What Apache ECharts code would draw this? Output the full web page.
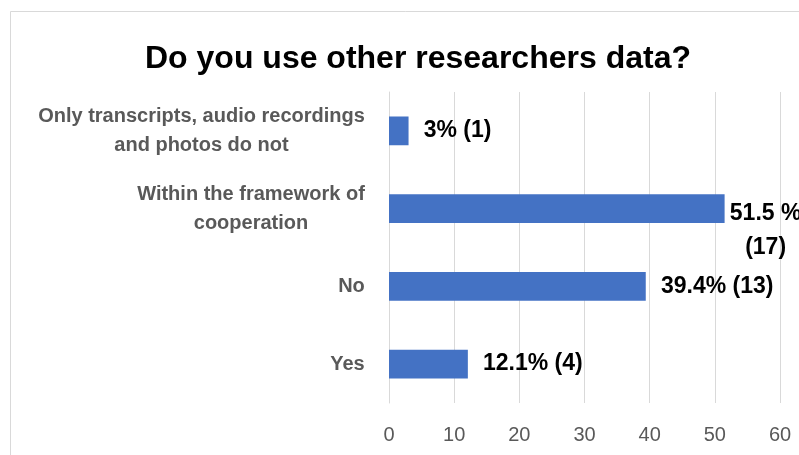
<!DOCTYPE html>
<html>
<head>
<meta charset="utf-8">
<script src="https://cdn.jsdelivr.net/npm/echarts@6/dist/echarts.min.js"></script>
<style>
html,body{margin:0;padding:0;background:#fff;}
#chart{width:799px;height:455px;}
</style>
</head>
<body>
<div id="chart"></div>
<script>
// Data (bottom to top order on the category axis)
const categories = ['Yes', 'No', 'Within the framework of\ncooperation', 'Only transcripts, audio recordings\nand photos do not'];
const values = [12.1, 39.4, 51.5, 3];
const valueLabels = ['12.1% (4)', '39.4% (13)', '51.5 %\n(17)', '3% (1)'];
const xTicks = [0, 10, 20, 30, 40, 50, 60];

const FONT = "'Liberation Sans', Arial, sans-serif";
const catFontSize = 20;
const valFontSize = 23;

// measure text widths so multi-line labels are centered within their block
const cv = document.createElement('canvas').getContext('2d');
function maxLineWidth(text, size) {
  cv.font = 'bold ' + size + 'px ' + "'Liberation Sans', Arial, sans-serif";
  return Math.ceil(Math.max(...text.split('\n').map(l => cv.measureText(l).width))) + 2;
}

const catRich = {};
categories.forEach((c, i) => {
  catRich['c' + i] = {width: maxLineWidth(c, catFontSize), align: 'center', fontSize: catFontSize, fontWeight: 'bold', color: '#595959', fontFamily: FONT, lineHeight: 29};
});
const valRich = {};
valueLabels.forEach((v, i) => {
  valRich['v' + i] = {width: maxLineWidth(v, valFontSize), align: 'center', fontSize: valFontSize, fontWeight: 'bold', color: '#000', fontFamily: FONT, lineHeight: 34};
});

const chart = echarts.init(document.getElementById('chart'), null, {renderer: 'canvas'});
chart.setOption({
  animation: false,
  backgroundColor: '#fff',
  title: {
    text: 'Do you use other researchers data?',
    left: 140, top: 38,
    textStyle: {fontFamily: FONT, fontSize: 32, fontWeight: 'bold', color: '#000'}
  },
  graphic: [{
    type: 'rect', silent: true, z: -1,
    shape: {x: 10.5, y: 11.5, width: 830, height: 470},
    style: {fill: 'none', stroke: '#d9d9d9', lineWidth: 1}
  }],
  grid: {left: 389, right: 19, top: 92, bottom: 52, containLabel: false},
  xAxis: {
    type: 'value', min: xTicks[0], max: xTicks[xTicks.length - 1], interval: 10,
    axisLine: {show: false}, axisTick: {show: false},
    splitLine: {show: true, lineStyle: {color: '#d9d9d9', width: 1}},
    axisLabel: {fontFamily: FONT, fontSize: 20, color: '#595959', margin: 22}
  },
  yAxis: {
    type: 'category', data: categories,
    axisLine: {show: true, lineStyle: {color: '#d9d9d9'}},
    axisTick: {show: false},
    axisLabel: {
      margin: 23, align: 'right',
      formatter: function (v, i) {
        return v.split('\n').map(l => '{c' + i + '|' + l + '}').join('\n');
      },
      rich: catRich
    }
  },
  series: [{
    type: 'bar',
    data: values.map((v, i) => {
      const item = {value: v};
      if (valueLabels[i].indexOf('\n') >= 0) {
        item.label = {distance: 4, offset: [0, 22]};
      }
      return item;
    }),
    barWidth: '37%',
    itemStyle: {color: '#4472c4'},
    label: {
      show: true, position: 'right', distance: 14,
      formatter: function (p) {
        return valueLabels[p.dataIndex].split('\n').map(l => '{v' + p.dataIndex + '|' + l + '}').join('\n');
      },
      rich: valRich
    }
  }]
});
</script>
</body>
</html>
